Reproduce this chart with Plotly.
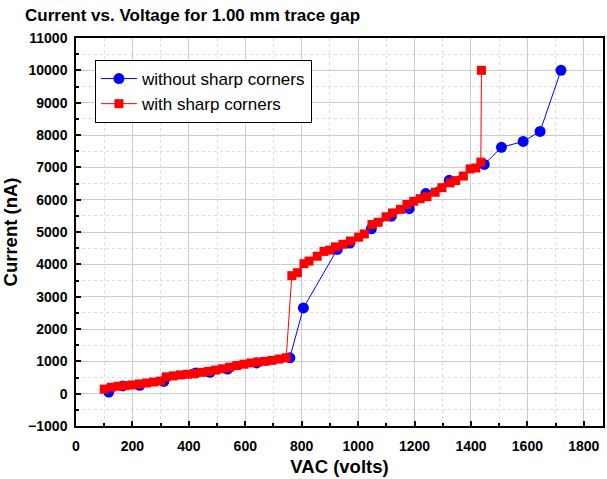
import plotly.graph_objects as go

title_text = "Current vs. Voltage for 1.00 mm trace gap"
x_title = "VAC (volts)"
y_title = "Current (nA)"

blue_name = "without sharp corners"
blue_x = [116, 166, 226, 311, 424, 475, 537, 640, 758, 806, 926, 971, 1047, 1118,
          1181, 1240, 1323, 1447, 1508, 1585, 1645, 1719]
blue_y = [50, 240, 260, 380, 640, 660, 760, 950, 1110, 2650, 4460, 4660, 5100, 5490,
          5720, 6190, 6600, 7090, 7620, 7800, 8110, 10000]

red_name = "with sharp corners"
red_x = [100, 125, 150, 175, 200, 225, 250, 275, 300, 320, 345, 370, 395, 420, 445,
         470, 495, 520, 545, 570, 595, 620, 645, 670, 695, 720, 745,
         765, 785, 808, 826, 855, 879, 899, 920, 946, 973, 1002, 1022, 1049, 1071,
         1099, 1122, 1150, 1173, 1197, 1220, 1244, 1273, 1297, 1326, 1346, 1373,
         1397, 1417, 1435, 1437]
red_y = [140, 200, 230, 250, 270, 300, 330, 360, 390, 520, 550, 580, 600, 620, 660,
         690, 730, 770, 820, 870, 910, 950, 980, 1000, 1030, 1070, 1110,
         3650, 3740, 4020, 4100, 4250, 4400, 4440, 4540, 4620, 4720, 4840, 4940, 5230, 5300,
         5470, 5590, 5700, 5850, 5950, 6030, 6090, 6230, 6370, 6520, 6590, 6730,
         6950, 6980, 7160, 10000]

FONT = "Liberation Sans, Arial, sans-serif"

fig = go.Figure()
fig.add_trace(go.Scatter(x=blue_x, y=blue_y, name=blue_name, mode="lines+markers",
                         line=dict(color="#0000ff", width=1),
                         marker=dict(symbol="circle", size=11, color="#0000ff")))
fig.add_trace(go.Scatter(x=red_x, y=red_y, name=red_name, mode="lines+markers",
                         line=dict(color="#ff0000", width=1),
                         marker=dict(symbol="square", size=9, color="#ff0000")))

axis_common = dict(showline=True, linecolor="black", linewidth=1.5, mirror=True,
                   ticks="inside", ticklen=5, tickwidth=1.5, tickcolor="black",
                   gridcolor="#cccccc", gridwidth=1, zeroline=False, tickformat="d",
                   tickfont=dict(family=FONT, size=14, color="black", weight="bold"))

fig.update_layout(
    width=607, height=479,
    margin=dict(l=76, r=2, t=38, b=53),
    paper_bgcolor="white", plot_bgcolor="white",
    title=dict(text=title_text, xref="container", yref="container",
               x=25/607, xanchor="left", y=1-15/479, yanchor="middle",
               font=dict(family=FONT, size=17, color="black", weight="bold")),
    xaxis=dict(range=[0, 1868], dtick=200, tick0=0, ticklabelstandoff=6,
               minor=dict(dtick=100, ticks="inside", ticklen=3, tickcolor="black",
                          showgrid=True, gridcolor="#dddddd", griddash="dot"),
               title=dict(text=x_title, standoff=8,
                          font=dict(family=FONT, size=18.5, color="black", weight="bold")),
               **axis_common),
    yaxis=dict(range=[-1000, 11000], dtick=1000, tick0=0, ticklabelstandoff=4,
               minor=dict(dtick=500, ticks="inside", ticklen=3, tickcolor="black",
                          showgrid=True, gridcolor="#dddddd", griddash="dot"),
               title=dict(text=y_title, standoff=6,
                          font=dict(family=FONT, size=18.5, color="black", weight="bold")),
               **axis_common),
    legend=dict(x=(95-76)/529, y=(426-60)/388, xanchor="left", yanchor="top",
                bordercolor="black", borderwidth=1, bgcolor="white",
                font=dict(family=FONT, size=17, color="black"),
                tracegroupgap=0, itemwidth=36),
    showlegend=True,
)

fig.write_html("out.html")
